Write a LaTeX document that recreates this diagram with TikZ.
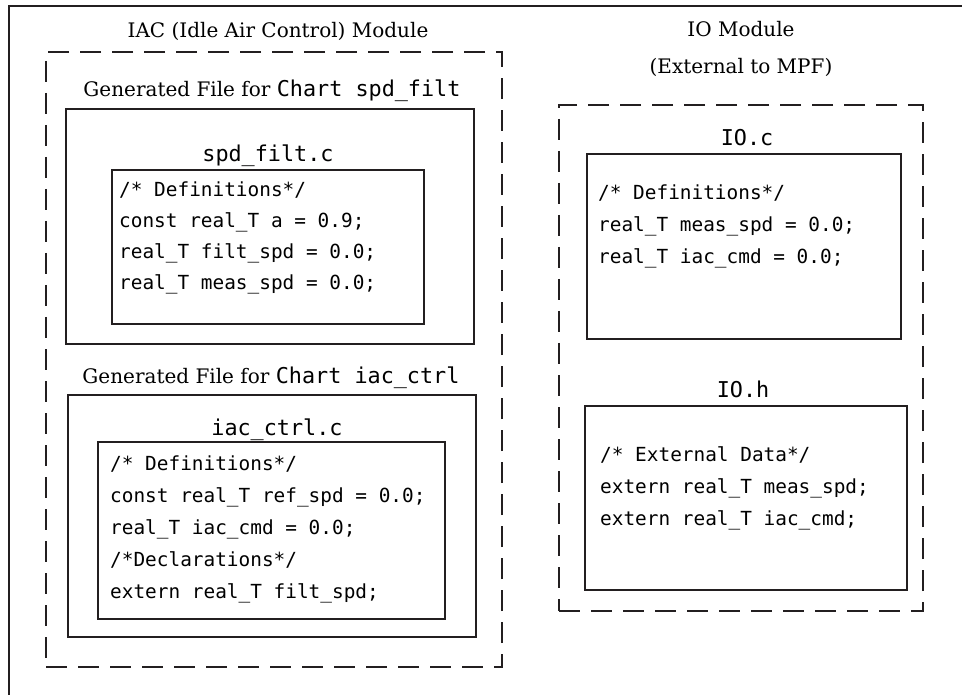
\documentclass[tikz,border=0pt]{standalone}
\usepackage{fontspec}
\setmainfont{DejaVu Serif}
\setmonofont{DejaVu Sans Mono}
\definecolor{linec}{HTML}{231F20}
\begin{document}
\begin{tikzpicture}[x=1pt,y=-1pt,
  solidbox/.style={draw=linec,line width=2.2pt,inner sep=0pt,rectangle},
  dashbox/.style={draw=linec,line width=2.4pt,inner sep=0pt,rectangle,dash pattern=on 21pt off 11pt},
  serifttl/.style={anchor=base,inner sep=0pt,font=\fontsize{20}{23}\selectfont,text=black},
  monottl/.style={anchor=base,inner sep=0pt,font=\fontsize{21.8}{24}\ttfamily,text=black},
  code/.style={anchor=base west,inner sep=0pt,font=\fontsize{19.4}{22}\ttfamily,text=black}]
\useasboundingbox (0,0) rectangle (962,695);
\fill[white] (0,0) rectangle (962,695);
% outer frame
\draw[linec,line width=2.4pt] (962,6) -| (9,695);
% left module
\node[dashbox,minimum width=456pt,minimum height=615pt] (iacmod) at (274,359.5) {};
\node[serifttl] (iacttl) at (278,38) {IAC (Idle Air Control) Module};
\node[serifttl] (gen1) at (272,97) {Generated File for \texttt{\fontsize{21.8}{24}\selectfont Chart spd\_filt}};
\node[solidbox,minimum width=408pt,minimum height=235pt] (spdout) at (270,226.5) {};
\node[monottl] (spdc) at (268,162) {spd\_filt.c};
\node[solidbox,minimum width=312pt,minimum height=154pt] (spdin) at (268,247) {};
\node[code] (s1) at (119,197) {/* Definitions*/};
\node[code] (s2) at (119,228) {const real\_T a = 0.9;};
\node[code] (s3) at (119,259) {real\_T filt\_spd = 0.0;};
\node[code] (s4) at (119,290) {real\_T meas\_spd = 0.0;};
\node[serifttl] (gen2) at (271,383) {Generated File for \texttt{\fontsize{21.8}{24}\selectfont Chart iac\_ctrl}};
\node[solidbox,minimum width=408pt,minimum height=242pt] (iacout) at (272,516) {};
\node[monottl] (iacc) at (277,435) {iac\_ctrl.c};
\node[solidbox,minimum width=347pt,minimum height=177pt] (iacin) at (271.5,530.5) {};
\node[code] (i1) at (110,470) {/* Definitions*/};
\node[code] (i2) at (110,502) {const real\_T ref\_spd = 0.0;};
\node[code] (i3) at (110,534) {real\_T iac\_cmd = 0.0;};
\node[code] (i4) at (110,566) {/*Declarations*/};
\node[code] (i5) at (110,598) {extern real\_T filt\_spd;};
% right module
\node[serifttl] (iottl) at (741,37) {IO Module};
\node[serifttl] (iosub) at (741,74) {(External to MPF)};
\node[dashbox,minimum width=364pt,minimum height=506pt] (iomod) at (741,358) {};
\node[monottl] (ioc) at (747,146) {IO.c};
\node[solidbox,minimum width=314pt,minimum height=185pt] (iocbox) at (744,246.5) {};
\node[code] (c1) at (598,200) {/* Definitions*/};
\node[code] (c2) at (598,232) {real\_T meas\_spd = 0.0;};
\node[code] (c3) at (598,264) {real\_T iac\_cmd = 0.0;};
\node[monottl] (ioh) at (743,397) {IO.h};
\node[solidbox,minimum width=322pt,minimum height=184pt] (iohbox) at (746,498) {};
\node[code] (h1) at (600,461) {/* External Data*/};
\node[code] (h2) at (600,493) {extern real\_T meas\_spd;};
\node[code] (h3) at (600,525) {extern real\_T iac\_cmd;};
\end{tikzpicture}
\end{document}
